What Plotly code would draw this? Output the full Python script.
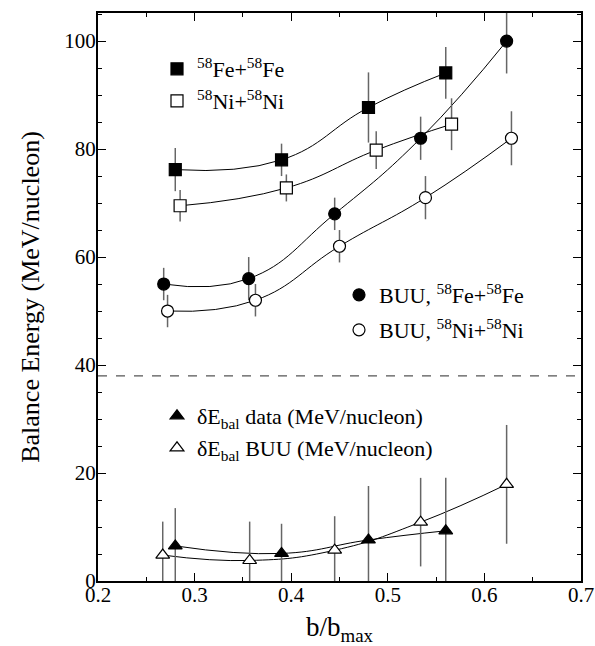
import plotly.graph_objects as go

# ---- data ----
fe_x = [0.280, 0.390, 0.480, 0.560]
fe_y = [76.2, 78.0, 87.7, 94.1]
fe_err = [4.0, 3.0, 6.5, 4.8]

ni_x = [0.285, 0.395, 0.488, 0.566]
ni_y = [69.5, 72.8, 79.8, 84.6]
ni_err = [2.9, 2.5, 3.5, 4.8]

buufe_x = [0.268, 0.356, 0.445, 0.534, 0.623]
buufe_y = [55.0, 56.0, 68.0, 82.0, 100.0]
buufe_err = [3.0, 4.0, 3.0, 4.0, 6.0]

buuni_x = [0.272, 0.363, 0.450, 0.539, 0.628]
buuni_y = [50.0, 52.0, 62.0, 71.0, 82.0]
buuni_err = [3.0, 3.0, 3.0, 4.0, 5.0]

dd_x = [0.280, 0.390, 0.480, 0.560]
dd_y = [6.5, 5.1, 7.6, 9.3]
dd_err = [7.0, 5.5, 10.0, 9.8]

db_x = [0.267, 0.357, 0.445, 0.534, 0.623]
db_y = [4.8, 3.8, 5.7, 10.9, 17.9]
db_err = [6.2, 7.2, 6.3, 8.2, 11.0]

dash_level = 38.0

x_ticks = [0.2, 0.3, 0.4, 0.5, 0.6, 0.7]
y_ticks = [0, 20, 40, 60, 80, 100]

FONT = "Liberation Serif, Times New Roman, DejaVu Serif, serif"
ERRC = "#666666"

series = [
    (fe_x, fe_y, fe_err, "square", 12, "<sup>58</sup>Fe+<sup>58</sup>Fe", "legend"),
    (ni_x, ni_y, ni_err, "square-open", 12, "<sup>58</sup>Ni+<sup>58</sup>Ni", "legend2"),
    (buufe_x, buufe_y, buufe_err, "circle", 12, "BUU, <sup>58</sup>Fe+<sup>58</sup>Fe", "legend3"),
    (buuni_x, buuni_y, buuni_err, "circle-open", 12, "BUU, <sup>58</sup>Ni+<sup>58</sup>Ni", "legend4"),
    (dd_x, dd_y, dd_err, "triangle-up", 12, "δE<sub>bal</sub> data (MeV/nucleon)", "legend5"),
    (db_x, db_y, db_err, "triangle-up-open", 12, "δE<sub>bal</sub> BUU (MeV/nucleon)", "legend6"),
]

fig = go.Figure()
for xs, ys, es, sym, sz, name, lg in series:
    fig.add_trace(go.Scatter(
        x=xs, y=ys, mode="lines", line=dict(color="black", width=1, shape="spline", smoothing=1.3),
        showlegend=False, hoverinfo="skip"))
for xs, ys, es, sym, sz, name, lg in series:
    is_open = sym.endswith("open")
    fig.add_trace(go.Scatter(
        x=xs, y=ys, mode="markers", name=name, legend=lg,
        error_y=dict(type="data", array=es, visible=True, color=ERRC, thickness=1.5, width=0),
        marker=dict(symbol=sym.replace("-open", ""), size=sz,
                    color="white" if is_open else "black",
                    line=dict(color="black", width=1.2))))

fig.add_shape(type="line", xref="paper", yref="y", x0=0, x1=1, y0=dash_level, y1=dash_level,
              line=dict(color="#555555", width=1.2, dash="dash"))

W, H = 595, 646
PL, PR, PT, PB = 98, 581, 13, 581          # plot area in window pixels
L, R, T, B = PL, W - PR, PT, H - PB
pw, ph = PR - PL, PB - PT

def lpos(px, py):
    return dict(x=(px - 20 - PL) / pw, y=(PB - py) / ph, xanchor="left", yanchor="middle",
                bgcolor="rgba(0,0,0,0)", borderwidth=0, font=dict(family=FONT, size=22, color="black"))

leg_pix = {"legend": (177, 69), "legend2": (177, 101), "legend3": (359, 295),
           "legend4": (359, 330), "legend5": (177, 416), "legend6": (177, 448)}

layout_legends = {k: lpos(*v) for k, v in leg_pix.items()}

fig.update_layout(
    template="none",
    width=W, height=H,
    margin=dict(l=L, r=R, t=T, b=B, autoexpand=False),
    paper_bgcolor="white", plot_bgcolor="white",
    font=dict(family=FONT, size=21, color="black"),
    xaxis=dict(range=[0.2, 0.7], tickvals=x_ticks, ticktext=[str(v) for v in x_ticks],
               ticks="inside", ticklen=8, tickwidth=1, tickcolor="black", automargin=False,
               ticklabelstandoff=-6,
               minor=dict(dtick=0.05, ticks="inside", ticklen=4, tickcolor="black"),
               showline=True, linewidth=2, linecolor="black", mirror="ticks",
               showgrid=False, zeroline=False,
               title=dict(text="b/b<sub>max</sub>", font=dict(size=27), standoff=16),
               tickfont=dict(size=21)),
    yaxis=dict(range=[0, 105.2], tickvals=y_ticks, ticktext=[str(v) for v in y_ticks],
               ticks="inside", ticklen=8, tickwidth=1, tickcolor="black", automargin=False,
               ticklabelstandoff=-4,
               minor=dict(dtick=5, ticks="inside", ticklen=4, tickcolor="black"),
               showline=True, linewidth=2, linecolor="black", mirror="ticks",
               showgrid=False, zeroline=False,
               title=dict(text="Balance Energy (MeV/nucleon)", font=dict(size=26), standoff=17),
               tickfont=dict(size=21)),
    **layout_legends,
)

fig.write_html("out.html", config={"displayModeBar": False},
               post_script="document.body.style.margin='0';document.body.style.overflow='hidden';")
